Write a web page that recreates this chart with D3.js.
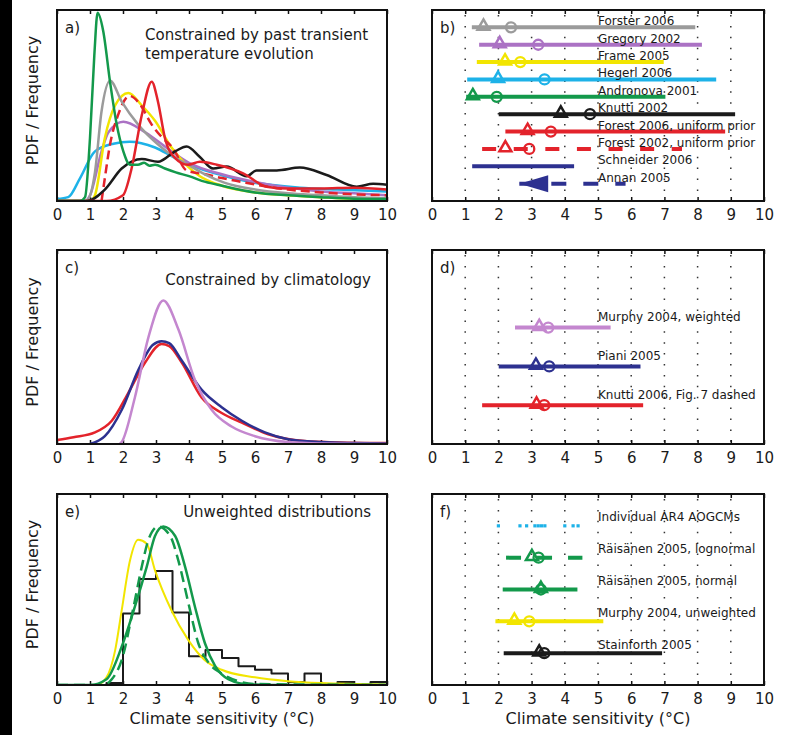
<!DOCTYPE html>
<html>
<head>
<meta charset="utf-8">
<script src="https://cdnjs.cloudflare.com/ajax/libs/d3/7.8.5/d3.min.js"></script>
<style>
body { margin: 0; background: #fff; }
svg { display: block; }
</style>
</head>
<body>
<div class="chart"></div>
<script>
var WIDTH = 785,
	HEIGHT = 735,
	FONT = "'DejaVu Sans', sans-serif";

var xTicks = [0, 1, 2, 3, 4, 5, 6, 7, 8, 9, 10];
var gridTicks = [1, 2, 3, 4, 5, 6, 7, 8, 9];

// a) PDFs constrained by past transient temperature evolution
var forsterX = [0, 0.85, 0.95, 1.15, 1.35, 1.61, 1.96, 2.46, 2.97, 3.47, 3.97, 4.48, 5.09, 6, 7, 8, 9, 10];
var forsterY = [0, 0, 0.01, 0.15, 0.47, 0.63, 0.52, 0.40, 0.31, 0.24, 0.19, 0.14, 0.095, 0.06, 0.04, 0.03, 0.02, 0.015];
var gregoryX = [0, 0.85, 1.0, 1.35, 1.56, 2.01, 2.67, 3.47, 4.0, 5, 6, 7, 8, 9, 10];
var gregoryY = [0, 0, 0.03, 0.26, 0.36, 0.415, 0.36, 0.26, 0.20, 0.14, 0.10, 0.07, 0.05, 0.04, 0.03];
var frameX = [0, 1.0, 1.15, 1.45, 1.76, 2.16, 2.57, 2.97, 3.47, 3.97, 4.33, 5, 6, 7, 8, 9, 10];
var frameY = [0, 0, 0.03, 0.33, 0.50, 0.565, 0.50, 0.42, 0.28, 0.18, 0.13, 0.08, 0.045, 0.03, 0.02, 0.012, 0.008];
var hegerlX = [0, 0.34, 0.7, 1.15, 1.71, 2.2, 2.97, 3.58, 4.33, 5.0, 5.85, 7.36, 8.5, 10];
var hegerlY = [0.01, 0.02, 0.12, 0.26, 0.30, 0.31, 0.28, 0.225, 0.17, 0.135, 0.10, 0.07, 0.06, 0.05];
var andronovaX = [0, 0.7, 0.85, 1.0, 1.13, 1.23, 1.4, 1.61, 1.81, 2.01, 2.21, 2.45, 2.64, 2.8, 2.97, 3.27, 3.6, 4.0, 4.5, 5, 6, 7, 8, 9, 10];
var andronovaY = [0, 0, 0.02, 0.33, 0.76, 0.985, 0.89, 0.62, 0.40, 0.26, 0.19, 0.19, 0.20, 0.185, 0.19, 0.17, 0.15, 0.13, 0.10, 0.08, 0.045, 0.03, 0.02, 0.012, 0.01];
var knutti02X = [0, 0.9, 1.45, 1.96, 2.57, 3.06, 3.58, 3.93, 4.33, 4.73, 5.14, 5.75, 6.05, 6.66, 7.36, 8.17, 9.08, 9.58, 10];
var knutti02Y = [0, 0, 0.06, 0.17, 0.22, 0.205, 0.26, 0.285, 0.23, 0.17, 0.18, 0.13, 0.16, 0.16, 0.175, 0.136, 0.075, 0.09, 0.085];
var forest06X = [0, 1.5, 2.0, 2.26, 2.57, 2.87, 3.06, 3.27, 3.58, 3.97, 4.33, 4.84, 5.64, 6.35, 7, 8, 9, 10];
var forest06Y = [0, 0, 0.03, 0.17, 0.45, 0.625, 0.52, 0.33, 0.225, 0.19, 0.205, 0.19, 0.145, 0.075, 0.065, 0.065, 0.07, 0.06];
var forest02X = [1.35, 1.45, 1.6, 1.85, 2.2, 2.5, 2.87, 3.2, 3.5, 3.93, 4.5, 5, 5.6, 6.06, 7, 8, 9, 10];
var forest02Y = [0, 0.12, 0.29, 0.45, 0.55, 0.51, 0.40, 0.33, 0.28, 0.16, 0.14, 0.12, 0.10, 0.085, 0.06, 0.045, 0.035, 0.03];

// c) PDFs constrained by climatology
var murphyWX = [1.9, 1.96, 2.36, 2.77, 3.22, 3.68, 4.18, 4.69, 5.29, 6.0, 7, 8, 10];
var murphyWY = [0, 0.01, 0.24, 0.55, 0.74, 0.59, 0.33, 0.175, 0.09, 0.04, 0.01, 0.003, 0];
var pianiX = [1.0, 1.45, 1.96, 2.46, 2.9, 3.17, 3.4, 3.78, 4.38, 4.99, 5.6, 6.3, 7, 8, 9, 10];
var pianiY = [0, 0.04, 0.175, 0.38, 0.51, 0.53, 0.52, 0.43, 0.28, 0.19, 0.12, 0.06, 0.025, 0.01, 0.005, 0.003];
var knutti06X = [0, 0.5, 1.15, 1.66, 2.15, 2.67, 3.17, 3.4, 3.78, 4.38, 4.99, 5.6, 6.4, 7.5, 8.5, 10];
var knutti06Y = [0.02, 0.035, 0.06, 0.12, 0.26, 0.42, 0.515, 0.505, 0.42, 0.24, 0.16, 0.11, 0.05, 0.015, 0.008, 0.005];

// e) unweighted distributions
var binEdges = [0, 0.5, 1, 1.5, 2, 2.5, 3, 3.5, 4, 4.5, 5, 5.5, 6, 6.5, 7, 7.5, 8, 8.5, 9, 9.5, 10];
var binCounts = [0, 0, 0, 0.01, 0.375, 0.555, 0.597, 0.38, 0.15, 0.183, 0.142, 0.098, 0.08, 0.06, 0.016, 0.06, 0, 0.016, 0, 0.016];
var murphyUX = [0, 1.2, 1.5, 1.76, 1.96, 2.21, 2.46, 2.72, 2.97, 3.47, 3.98, 4.48, 4.99, 6, 7, 8, 10];
var murphyUY = [0, 0, 0.04, 0.18, 0.39, 0.65, 0.76, 0.74, 0.60, 0.39, 0.235, 0.13, 0.08, 0.04, 0.02, 0.01, 0.003];
var raisNormX = [0, 1.0, 1.5, 1.96, 2.36, 2.72, 2.97, 3.22, 3.58, 3.88, 4.18, 4.48, 4.79, 5.19, 5.7, 6.5, 10];
var raisNormY = [0, 0, 0.03, 0.20, 0.41, 0.62, 0.78, 0.83, 0.78, 0.62, 0.41, 0.22, 0.10, 0.03, 0.005, 0, 0];
var raisLogX = [0, 1.4, 1.66, 1.96, 2.31, 2.57, 2.77, 3.07, 3.43, 3.68, 3.98, 4.28, 4.58, 4.99, 5.5, 6, 10];
var raisLogY = [0, 0, 0.03, 0.13, 0.40, 0.62, 0.76, 0.83, 0.78, 0.65, 0.43, 0.22, 0.12, 0.06, 0.02, 0.005, 0];

// b) ranges, mode (triangle) and median (circle)
var namesB = ["Forster 2006", "Gregory 2002", "Frame 2005", "Hegerl 2006", "Andronova 2001", "Knutti 2002",
	"Forest 2006, uniform prior", "Forest 2002, uniform prior", "Schneider 2006", "Annan 2005"];
var lowB = [1.2, 1.42, 1.35, 1.06, 1.03, 2.01, 2.21, 1.51, 1.21, 2.63];
var highB = [7.93, 8.13, 6.98, 8.56, 7.03, 9.13, 8.83, 7.53, 4.28, 5.83];
var modeB = [1.55, 2.04, 2.2, 1.99, 1.23, 3.88, 2.88, 2.21, null, null];
var medianB = [2.38, 3.2, 2.66, 3.39, 1.95, 4.76, 3.58, 2.93, null, null];

// d)
var namesD = ["Murphy 2004, weighted", "Piani 2005", "Knutti 2006, Fig. 7 dashed"];
var lowD = [2.5, 2.01, 1.51];
var highD = [5.38, 6.28, 6.36];
var modeD = [3.23, 3.13, 3.15];
var medianD = [3.5, 3.53, 3.38];

// f)
var namesF = ["Individual AR4 AOGCMs", "R\u00e4is\u00e4nen 2005, lognormal", "R\u00e4is\u00e4nen 2005, normal",
	"Murphy 2004, unweighted", "Stainforth 2005"];
var lowF = [null, 2.23, 2.13, 1.91, 2.16];
var highF = [null, 4.53, 4.38, 5.16, 6.93];
var modeF = [null, 3.01, 3.28, 2.48, 3.23];
var medianF = [null, 3.21, 3.28, 2.93, 3.38];
var aogcmF = [2.0, 2.65, 2.85, 3.1, 3.2, 3.3, 3.4, 4.0, 4.25, 4.4];

// styles
var GRAY = "#9b9b9b", PURPLE = "#ab72c4", YELLOW = "#f2e500", CYAN = "#1db2e8", GREEN = "#13994b",
	BLACK = "#1b1b1b", RED = "#e3232b", NAVY = "#2d3190", LAVENDER = "#c487cf";
var colorB = [GRAY, PURPLE, YELLOW, CYAN, GREEN, BLACK, RED, RED, NAVY, NAVY];
var dashB = [null, null, null, null, null, null, null, "14,17.6", null, "15,17"];
var colorD = [LAVENDER, NAVY, RED];
var colorF = [CYAN, GREEN, GREEN, YELLOW, BLACK];
var dashF = [null, "15,16", null, null, null];

var COL_X = [[57, 387], [432, 764]];
var ROW_Y = [[10, 201], [250, 444], [494, 685]];

var svg;

var zip = function(xs, ys) {
	return xs.map(function(v, i) { return [v, ys[i]]; });
}

var drawAxes = function(x, ry, grid) {
	var g = svg.append("g");
	if (grid) {
		g.selectAll("line.grid")
			.data(gridTicks)
			.enter()
			.append("line")
			.attr("class", "grid")
			.attr("x1", function(d) { return x(d); })
			.attr("x2", function(d) { return x(d); })
			.attr("y1", ry[0] + 5)
			.attr("y2", ry[1])
			.attr("stroke", "#333")
			.attr("stroke-width", 1.5)
			.attr("stroke-dasharray", "1.5,9.4");
	}
	var bottom = g.append("g")
		.attr("transform", "translate(0," + ry[1] + ")")
		.call(d3.axisBottom(x).tickValues(xTicks).tickSize(-4).tickSizeOuter(0).tickPadding(8));
	bottom.attr("font-size", 15).attr("font-family", FONT);
	bottom.select(".domain").remove();
	bottom.selectAll("text").attr("fill", "#1a1a1a");
	bottom.selectAll("line").attr("stroke", "#111").attr("stroke-width", 1.5);

	var top = g.append("g")
		.attr("transform", "translate(0," + ry[0] + ")")
		.call(d3.axisTop(x).tickValues(xTicks).tickSize(-4).tickSizeOuter(0).tickFormat(""));
	top.select(".domain").remove();
	top.selectAll("line").attr("stroke", "#111").attr("stroke-width", 1.5);
}

var drawBox = function(cx, ry, tag) {
	svg.append("rect")
		.attr("x", cx[0])
		.attr("y", ry[0])
		.attr("width", cx[1] - cx[0])
		.attr("height", ry[1] - ry[0])
		.attr("fill", "none")
		.attr("stroke", "#111")
		.attr("stroke-width", 2);
	svg.append("text")
		.attr("x", cx[0] + 8)
		.attr("y", ry[0] + 23)
		.attr("font-family", FONT)
		.attr("font-size", 15)
		.attr("fill", "#1a1a1a")
		.text(tag);
}

var pdfPanel = function(cx, ry, tag, series, id) {
	var x = d3.scaleLinear().domain([0, 10]).range(cx);
	var y = d3.scaleLinear().domain([0, 1]).range([ry[1], ry[0]]);

	drawAxes(x, ry, false);

	svg.append("clipPath")
		.attr("id", id)
		.append("rect")
		.attr("x", cx[0])
		.attr("y", ry[0])
		.attr("width", cx[1] - cx[0])
		.attr("height", ry[1] - ry[0]);

	var chart = svg.append("g").attr("clip-path", "url(#" + id + ")");

	series.forEach(function(s) {
		var line = d3.line()
			.curve(s.step ? d3.curveStepAfter : d3.curveMonotoneX)
			.x(function(d) { return x(d[0]); })
			.y(function(d) { return y(d[1]); });
		chart.append("path")
			.attr("d", line(s.data))
			.attr("fill", "none")
			.attr("stroke", s.color)
			.attr("stroke-width", s.width || 2.5)
			.attr("stroke-dasharray", s.dash || null)
			.attr("stroke-linejoin", "round");
	});

	drawBox(cx, ry, tag);

	svg.append("text")
		.attr("transform", "translate(" + (cx[0] - 19) + "," + ((ry[0] + ry[1]) / 2 - 5) + ") rotate(-90)")
		.attr("text-anchor", "middle")
		.attr("font-family", FONT)
		.attr("font-size", 16)
		.attr("fill", "#1a1a1a")
		.text("PDF / Frequency");
	return x;
}

var triangle = d3.symbol().type(d3.symbolTriangle).size(62);

// slots: number of row slots in the panel, first: slot of the first row
var rangePanel = function(cx, ry, tag, names, lows, highs, modes, medians, colors, dashes, slots, first, lift) {
	var x = d3.scaleLinear().domain([0, 10]).range(cx);
	var y = d3.scaleLinear().domain([0, slots]).range(ry);

	drawAxes(x, ry, true);
	var chart = svg.append("g");

	names.forEach(function(name, i) {
		var yy = y(i + first);
		var color = colors[i];
		if (lows[i] !== null) {
			chart.append("line")
				.attr("x1", x(lows[i]))
				.attr("x2", x(highs[i]))
				.attr("y1", yy)
				.attr("y2", yy)
				.attr("stroke", color)
				.attr("stroke-width", 4)
				.attr("stroke-dasharray", dashes && dashes[i] ? dashes[i] : null);
		}
		if (modes[i] !== null) {
			chart.append("path")
				.attr("d", triangle())
				.attr("transform", "translate(" + x(modes[i]) + "," + (yy - 1) + ")")
				.attr("fill", "none")
				.attr("stroke", color)
				.attr("stroke-width", 2.5);
		}
		if (medians[i] !== null) {
			chart.append("circle")
				.attr("cx", x(medians[i]))
				.attr("cy", yy)
				.attr("r", 5)
				.attr("fill", "none")
				.attr("stroke", color)
				.attr("stroke-width", 2.3);
		}
		chart.append("text")
			.attr("x", x(5))
			.attr("y", yy - lift)
			.attr("font-family", FONT)
			.attr("font-size", 12)
			.attr("fill", "#1a1a1a")
			.text(name);
	});

	drawBox(cx, ry, tag);
	return {x: x, y: y, chart: chart};
}

var xLabel = function(cx) {
	svg.append("text")
		.attr("x", (cx[0] + cx[1]) / 2)
		.attr("y", 724)
		.attr("text-anchor", "middle")
		.attr("font-family", FONT)
		.attr("font-size", 16)
		.attr("fill", "#1a1a1a")
		.text("Climate sensitivity (\u00b0C)");
}

var generateChart = function() {
	svg = d3.select(".chart").append("svg")
		.attr("width", WIDTH)
		.attr("height", HEIGHT);

	svg.append("rect")
		.attr("x", 0).attr("y", 0)
		.attr("width", 12).attr("height", HEIGHT)
		.attr("fill", "#000");

	// a)
	pdfPanel(COL_X[0], ROW_Y[0], "a)", [
		{data: zip(hegerlX, hegerlY), color: CYAN},
		{data: zip(gregoryX, gregoryY), color: PURPLE},
		{data: zip(frameX, frameY), color: YELLOW},
		{data: zip(forest02X, forest02Y), color: RED, dash: "9,5"},
		{data: zip(forsterX, forsterY), color: GRAY},
		{data: zip(knutti02X, knutti02Y), color: BLACK},
		{data: zip(forest06X, forest06Y), color: RED},
		{data: zip(andronovaX, andronovaY), color: GREEN}
	], "clipA");
	svg.append("text")
		.attr("font-family", FONT).attr("font-size", 15).attr("fill", "#1a1a1a")
		.selectAll("tspan")
		.data(["Constrained by past transient", "temperature evolution"])
		.enter()
		.append("tspan")
		.attr("x", 145)
		.attr("y", function(d, i) { return 40 + i * 19; })
		.text(function(d) { return d; });

	// c)
	pdfPanel(COL_X[0], ROW_Y[1], "c)", [
		{data: zip(knutti06X, knutti06Y), color: RED},
		{data: zip(pianiX, pianiY), color: NAVY},
		{data: zip(murphyWX, murphyWY), color: LAVENDER}
	], "clipC");
	svg.append("text")
		.attr("x", 371).attr("y", 285)
		.attr("text-anchor", "end")
		.attr("font-family", FONT).attr("font-size", 15).attr("fill", "#1a1a1a")
		.text("Constrained by climatology");

	// e)
	pdfPanel(COL_X[0], ROW_Y[2], "e)", [
		{data: zip(binEdges, binCounts.concat([binCounts[binCounts.length - 1]])), color: BLACK, step: true, width: 2},
		{data: zip(murphyUX, murphyUY), color: YELLOW, width: 2},
		{data: zip(raisLogX, raisLogY), color: GREEN, dash: "11,6"},
		{data: zip(raisNormX, raisNormY), color: GREEN}
	], "clipE");
	svg.append("text")
		.attr("x", 371).attr("y", 517)
		.attr("text-anchor", "end")
		.attr("font-family", FONT).attr("font-size", 15).attr("fill", "#1a1a1a")
		.text("Unweighted distributions");
	xLabel(COL_X[0]);

	// b)
	var pb = rangePanel(COL_X[1], ROW_Y[0], "b)", namesB, lowB, highB, modeB, medianB, colorB, dashB, 11, 1, 2);
	// Annan 2005: arrow head for the open lower end
	var ia = namesB.length - 1;
	var ya = pb.y(ia + 1);
	pb.chart.append("path")
		.attr("d", "M" + pb.x(lowB[ia]) + "," + ya +
			"L" + pb.x(lowB[ia] + 0.87) + "," + (ya - 8.5) +
			"L" + pb.x(lowB[ia] + 0.87) + "," + (ya + 8.5) + "Z")
		.attr("fill", NAVY);

	// d)
	rangePanel(COL_X[1], ROW_Y[1], "d)", namesD, lowD, highD, modeD, medianD, colorD, null, 5, 2, 6.5);

	// f)
	var pf = rangePanel(COL_X[1], ROW_Y[2], "f)", namesF, lowF, highF, modeF, medianF, colorF, dashF, 6, 1, 4.5);
	pf.chart.selectAll("rect.model")
		.data(aogcmF)
		.enter()
		.append("rect")
		.attr("class", "model")
		.attr("x", function(d) { return pf.x(d) - 1.6; })
		.attr("y", pf.y(1) - 1.6)
		.attr("width", 3.2)
		.attr("height", 3.2)
		.attr("fill", CYAN);
	xLabel(COL_X[1]);
}

window.onload = function() {
	generateChart();
}
</script>
</body>
</html>
